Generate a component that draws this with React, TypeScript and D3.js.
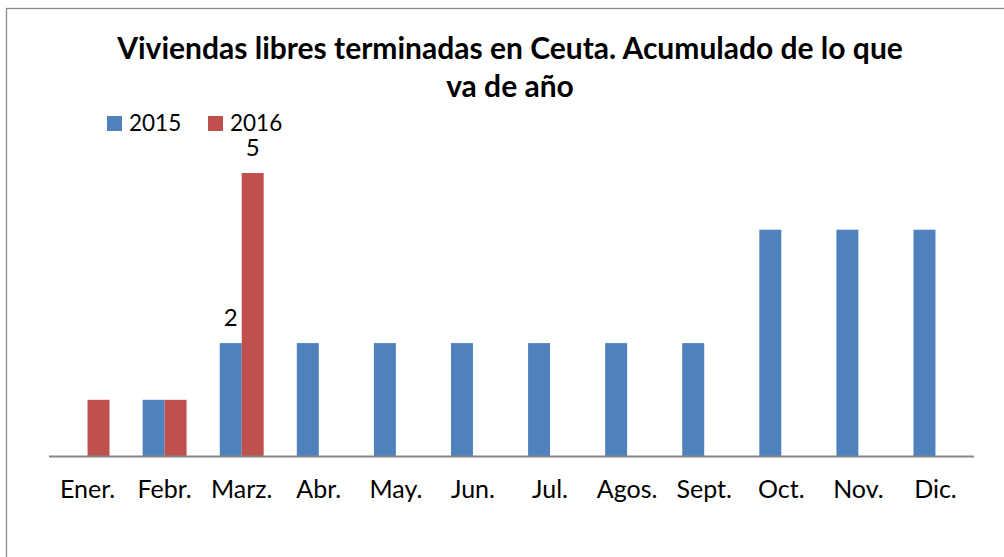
import React from "react";
import * as d3 from "d3";

const categories = ["Ener.", "Febr.", "Marz.", "Abr.", "May.", "Jun.", "Jul.", "Agos.", "Sept.", "Oct.", "Nov.", "Dic."];
const series2015: (number | null)[] = [0, 1, 2, 2, 2, 2, 2, 2, 2, 4, 4, 4];
const series2016: (number | null)[] = [1, 1, 5, null, null, null, null, null, null, null, null, null];
const seriesNames = ["2015", "2016"];
const colors = ["#4F81BD", "#C0504D"];
const labeled: { series: number; index: number }[] = [
  { series: 0, index: 2 },
  { series: 1, index: 2 },
];

const W = 1004;
const H = 557;
const FONT = "Lato, 'Open Sans', sans-serif";

export default function App() {
  const left = 49;
  const right = 974;
  const baseline = 456.5;
  const x = d3.scaleBand<string>().domain(categories).range([left, right]).paddingInner(0.43).paddingOuter(0.215);
  const inner = d3.scaleBand<string>().domain(seriesNames).range([0, x.bandwidth()]);
  const y = d3.scaleLinear().domain([0, 1]).range([baseline, baseline - 56.7]);
  const allSeries = [series2015, series2016];

  return (
    <svg width={W} height={H} style={{ position: "absolute", left: 0, top: 0, fontFamily: FONT }}>
      <rect x={0} y={0} width={W} height={H} fill="#fff" />
      <rect x={6.5} y={8.5} width={W + 10} height={H + 10} fill="none" stroke="#8c8c8c" strokeWidth={1.3} />
      <text x={510} y={59} textAnchor="middle" fontSize={30} fontWeight="bold" fill="#000">
        Viviendas libres terminadas en Ceuta. Acumulado de lo que
      </text>
      <text x={510} y={97} textAnchor="middle" fontSize={30} fontWeight="bold" fill="#000">
        va de año
      </text>
      {seriesNames.map((n, i) => (
        <g key={n} transform={`translate(${107 + i * 101},0)`}>
          <rect x={0} y={116} width={15} height={15} fill={colors[i]} />
          <text x={22} y={131} fontSize={22.5} fill="#000">{n}</text>
        </g>
      ))}
      {allSeries.map((s, si) =>
        s.map((v, i) =>
          v == null || v === 0 ? null : (
            <rect
              key={`${si}-${i}`}
              x={(x(categories[i]) ?? 0) + (inner(seriesNames[si]) ?? 0)}
              y={y(v)}
              width={inner.bandwidth()}
              height={baseline - y(v)}
              fill={colors[si]}
            />
          )
        )
      )}
      {labeled.map(({ series, index }) => {
        const v = allSeries[series][index] as number;
        return (
          <text
            key={`l${series}-${index}`}
            x={(x(categories[index]) ?? 0) + (inner(seriesNames[series]) ?? 0) + inner.bandwidth() / 2}
            y={y(v) - 17.5}
            textAnchor="middle"
            fontSize={24}
            fill="#000"
          >
            {v}
          </text>
        );
      })}
      <line x1={left} x2={right} y1={baseline} y2={baseline} stroke="#868686" strokeWidth={2} />
      {categories.map((c) => (
        <text key={c} x={(x(c) ?? 0) + x.bandwidth() / 2} y={498} textAnchor="middle" fontSize={25} fill="#000">
          {c}
        </text>
      ))}
    </svg>
  );
}
